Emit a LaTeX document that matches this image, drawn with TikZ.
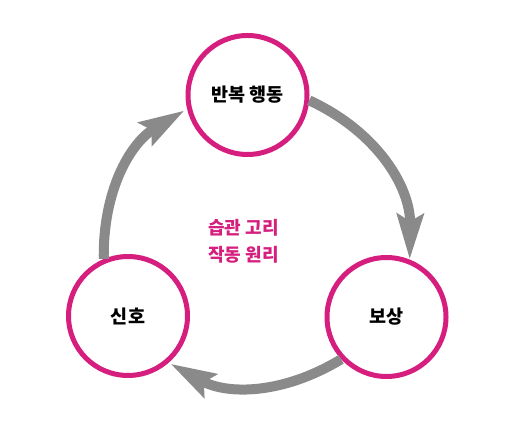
\documentclass[tikz,border=0pt]{standalone}
\usepackage{fontspec}
\newfontfamily\kr{Noto Sans CJK KR}
\usetikzlibrary{arrows.meta}
\definecolor{mag}{RGB}{213,30,125}
\definecolor{arrowgray}{RGB}{138,138,138}
\begin{document}
\begin{tikzpicture}[x=1pt,y=1pt,
  stage/.style={circle, draw=mag, line width=5pt, fill=white, minimum size=119pt, inner sep=0pt,
    font=\kr\bfseries\fontsize{18.5}{22}\selectfont},
  flow/.style={draw=arrowgray, line width=10pt, -{Stealth[length=45pt,width=26pt,inset=7pt]}},
  title/.style={text=mag, align=center, font=\kr\bfseries\fontsize{18}{27}\selectfont}]
\useasboundingbox (0,0) rectangle (513,422);
\node[stage] (top) at (247.5,327) {반복 행동};
\node[stage] (left) at (128,106) {신호};
\node[stage] (right) at (386.5,105) {보상};
\node[title] (mid) at (243.5,180.5) {습관 고리\\작동 원리};
\draw[flow, shorten >=3pt] (left.113) to[bend left=30] (top.193);
\draw[flow] (top.-5) to[bend left=33] (right.68);
\draw[flow, shorten >=2pt] (right.223) to[bend left=30] (left.-49);
\end{tikzpicture}
\end{document}
